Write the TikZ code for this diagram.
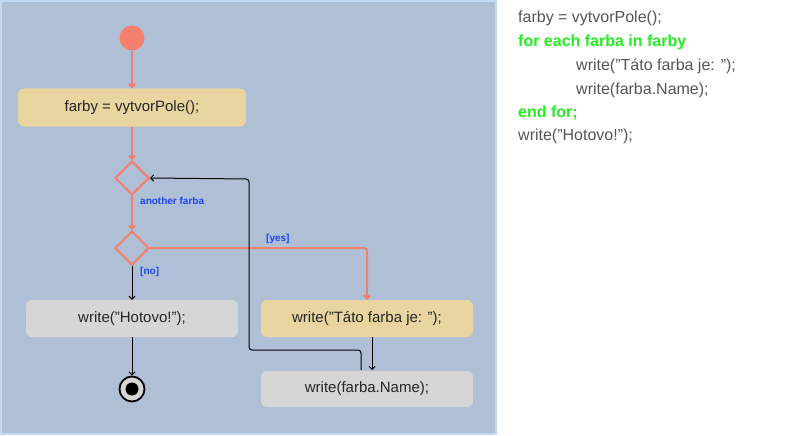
\documentclass[tikz,border=0pt]{standalone}
\usepackage{fontspec}
\setmainfont{Liberation Sans}
\usetikzlibrary{shapes.geometric,arrows.meta}
\definecolor{panel}{HTML}{AFC0D6}
\definecolor{pborder}{HTML}{C3DAF6}
\definecolor{flow}{HTML}{F47F6C}
\definecolor{act}{HTML}{E8D5A0}
\definecolor{grayact}{HTML}{D6D6D6}
\definecolor{lbl}{HTML}{1E46F0}
\definecolor{codeg}{HTML}{555555}
\definecolor{codegreen}{HTML}{22EE22}
\begin{document}
\begin{tikzpicture}[x=1pt,y=-1pt,
  box/.style={rounded corners=6pt,minimum height=38pt,inner sep=0pt,font=\fontsize{15}{18}\selectfont,text=black!85},
  dia/.style={diamond,draw=flow,line width=2pt,minimum width=34pt,minimum height=34pt,inner sep=0pt,fill=panel},
  red/.style={draw=flow,line width=2pt,-{Straight Barb[length=3pt,width=6pt]}},
  blk/.style={draw=black,line width=1pt,-{Straight Barb[length=3pt,width=6pt]}},
  lab/.style={text=lbl,font=\bfseries\fontsize{10}{12}\selectfont,inner sep=0pt},
  code/.style={anchor=west,inner sep=0pt,font=\fontsize{16}{19}\selectfont,text=codeg},
  kw/.style={code,text=codegreen,font=\bfseries\fontsize{16}{19}\selectfont}]
\useasboundingbox (0,0) rectangle (790,436);
\fill[white] (0,0) rectangle (790,436);
\draw[pborder,fill=panel,line width=2pt] (1,1) rectangle (496,434);
\node[circle,fill=flow,minimum size=25pt,inner sep=0pt] (start) at (132,38) {};
\node[box,fill=act,minimum width=228pt] (b1) at (132,107.5) {farby = vytvorPole();};
\node[dia] (d1) at (132,178) {};
\node[dia] (d2) at (132,248) {};
\node[box,fill=grayact,minimum width=212pt,minimum height=37pt] (hot) at (132,318.5) {write("Hotovo!");};
\node[box,fill=act,minimum width=212pt,minimum height=37pt] (tato) at (367,318.5) {write("Táto farba je: ");};
\node[box,fill=grayact,minimum width=212pt,minimum height=36pt] (name) at (367,389) {write(farba.Name);};
\node[circle,draw=black,line width=1.8pt,fill=grayact,minimum size=25pt,inner sep=0pt] (endc) at (132,389) {};
\node[circle,fill=black,minimum size=13pt,inner sep=0pt] at (endc) {};
\draw[red] (start) -- (b1);
\draw[red] (b1) -- (d1);
\draw[red] (d1) -- (d2);
\coordinate (yc) at (367,248);
\draw[red,rounded corners=3pt] (d2.east) -- (yc) -- (tato.north);
\coordinate (t1) at (372,337);
\coordinate (t2) at (372,370);
\draw[blk] (t1) -- (t2);
\draw[blk] (d2) -- (hot);
\draw[blk] (hot) -- (endc);
\coordinate (l0) at (361,370);
\coordinate (l1) at (361,350);
\coordinate (l2) at (249,350);
\coordinate (l3) at (249,179);
\draw[blk,rounded corners=3pt] (l0) -- (l1) -- (l2) -- (l3) -- (d1.east);
\node[lab,anchor=west] (la) at (140,201) {another farba};
\node[lab,anchor=west] (lno) at (140,272) {[no]};
\node[lab,anchor=west] (lyes) at (266,239) {[yes]};
\node[code] (c1) at (518,18) {farby = vytvorPole();};
\node[kw] (c2) at (518,42) {for each farba in farby};
\node[code] (c3) at (576,66) {write("Táto farba je: ");};
\node[code] (c4) at (576,90) {write(farba.Name);};
\node[kw] (c5) at (518,113) {end for;};
\node[code] (c6) at (518,136) {write("Hotovo!");};
\end{tikzpicture}
\end{document}
